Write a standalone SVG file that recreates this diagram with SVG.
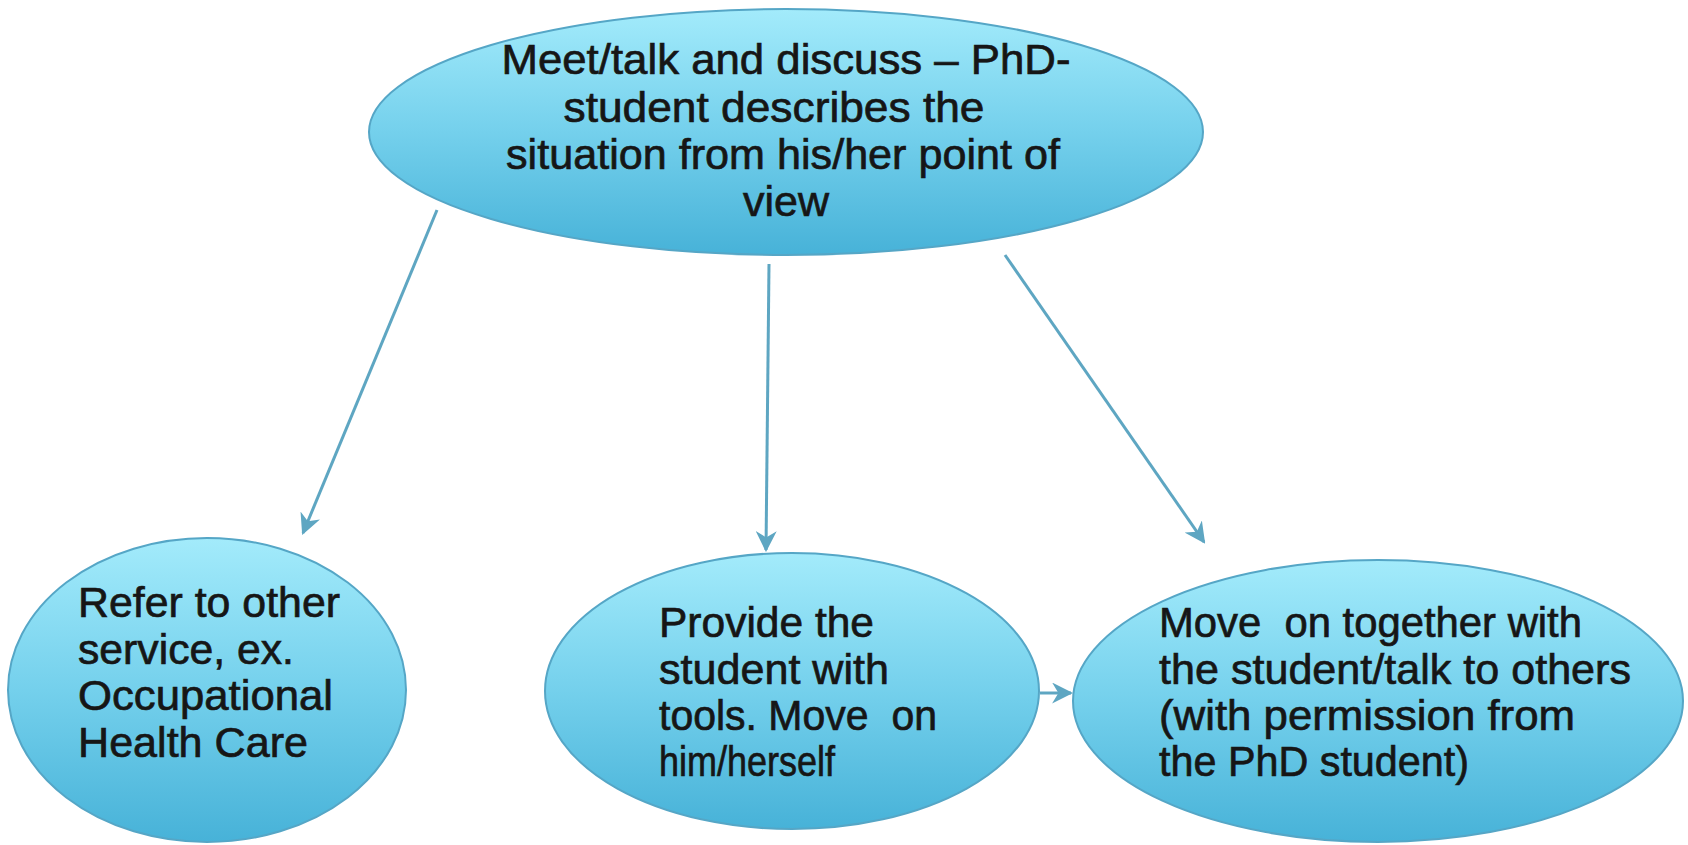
<svg xmlns="http://www.w3.org/2000/svg" width="1688" height="845" viewBox="0 0 1688 845">
<defs>
<linearGradient id="g" x1="0" y1="0" x2="0" y2="1">
<stop offset="0" stop-color="#a3ebfb"/>
<stop offset="0.5" stop-color="#74d0ec"/>
<stop offset="1" stop-color="#47b2d8"/>
</linearGradient>
<marker id="arr" viewBox="0 0 10 10" refX="9" refY="5" markerWidth="7" markerHeight="7" orient="auto" markerUnits="strokeWidth">
<path d="M0,0 L10,5 L0,10 L3,5 Z" fill="#5ea6c2"/>
</marker>
<style>
.n{fill:url(#g);stroke:#55a6c6;stroke-width:2}
.t{font-family:"Liberation Sans",Arial,sans-serif;font-size:43px;fill:#161616;stroke:#161616;stroke-width:0.7}
.c{stroke:#5ea6c2;stroke-width:3;fill:none;marker-end:url(#arr)}
</style>
</defs>
<rect width="1688" height="845" fill="#fff"/>
<g id="connectors">
<line class="c" x1="437" y1="210" x2="303" y2="533"/>
<line class="c" x1="769" y1="264" x2="766" y2="550"/>
<line class="c" x1="1005" y1="255" x2="1204" y2="542"/>
<line class="c" x1="1040" y1="693" x2="1071" y2="693"/>
</g>
<g id="node-top">
<ellipse class="n" cx="786" cy="132" rx="417" ry="123"/>
<text class="t" font-size="45" text-anchor="middle" lengthAdjust="spacingAndGlyphs">
<tspan x="792" y="74" textLength="569" lengthAdjust="spacingAndGlyphs">Meet/talk and discuss – PhD-</tspan>
<tspan x="780" y="122" textLength="421" lengthAdjust="spacingAndGlyphs">student describes the</tspan>
<tspan x="789" y="169" textLength="554" lengthAdjust="spacingAndGlyphs">situation from his/her point of</tspan>
<tspan x="786" y="216" textLength="86" lengthAdjust="spacingAndGlyphs">view</tspan>
</text>
</g>
<g id="node-left">
<ellipse class="n" cx="207" cy="690" rx="199" ry="152"/>
<text class="t">
<tspan x="78" y="617" textLength="262" lengthAdjust="spacingAndGlyphs">Refer to other</tspan>
<tspan x="78" y="664" textLength="216" lengthAdjust="spacingAndGlyphs">service, ex.</tspan>
<tspan x="78" y="710" textLength="255" lengthAdjust="spacingAndGlyphs">Occupational</tspan>
<tspan x="78" y="757" textLength="230" lengthAdjust="spacingAndGlyphs">Health Care</tspan>
</text>
</g>
<g id="node-middle">
<ellipse class="n" cx="792" cy="691" rx="247" ry="138"/>
<text class="t">
<tspan x="659" y="637" textLength="215" lengthAdjust="spacingAndGlyphs">Provide the</tspan>
<tspan x="659" y="684" textLength="230" lengthAdjust="spacingAndGlyphs">student with</tspan>
<tspan x="659" y="730" textLength="278" lengthAdjust="spacingAndGlyphs">tools. Move&#160; on</tspan>
<tspan x="659" y="776" textLength="176" lengthAdjust="spacingAndGlyphs">him/herself</tspan>
</text>
</g>
<g id="node-right">
<ellipse class="n" cx="1378" cy="701" rx="305" ry="141"/>
<text class="t">
<tspan x="1159" y="637" textLength="423" lengthAdjust="spacingAndGlyphs">Move&#160; on together with</tspan>
<tspan x="1159" y="684" textLength="472" lengthAdjust="spacingAndGlyphs">the student/talk to others</tspan>
<tspan x="1159" y="730" textLength="416" lengthAdjust="spacingAndGlyphs">(with permission from</tspan>
<tspan x="1159" y="776" textLength="310" lengthAdjust="spacingAndGlyphs">the PhD student)</tspan>
</text>
</g>
</svg>
